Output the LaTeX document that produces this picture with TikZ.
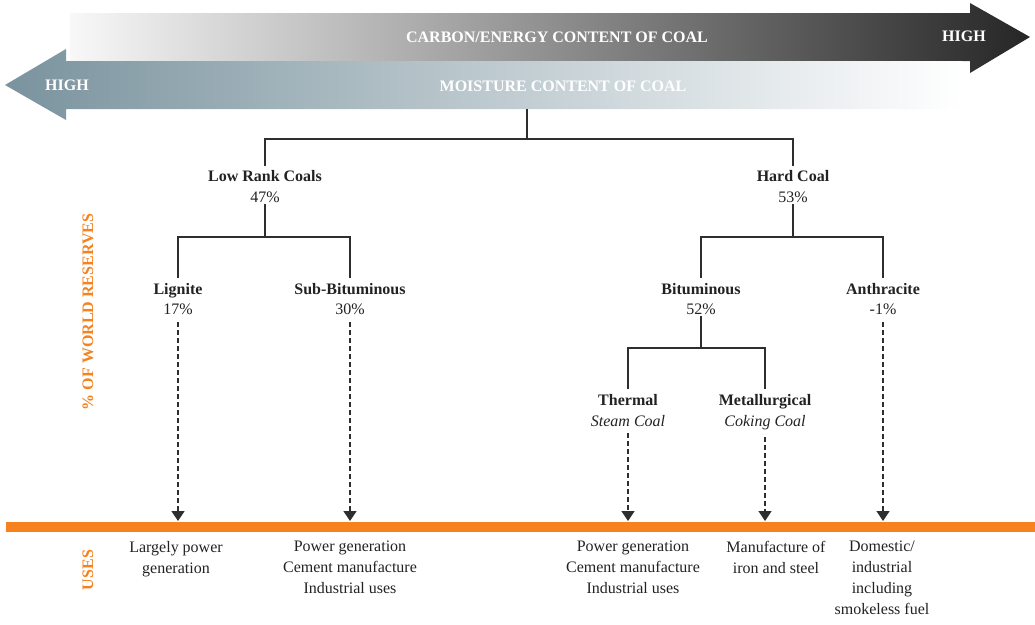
\documentclass[tikz,border=0pt]{standalone}
\usepackage{fontspec}
\setmainfont{Liberation Serif}
\usetikzlibrary{arrows.meta}
\definecolor{orng}{HTML}{F5821F}
\definecolor{lnc}{HTML}{2E2E2E}
\definecolor{txc}{HTML}{222222}
\definecolor{slate}{HTML}{7A939E}
\definecolor{slatemid}{HTML}{A4B4BC}
\definecolor{greyl}{HTML}{F8F8F8}
\definecolor{greym}{HTML}{9A9A9E}
\definecolor{greyd}{HTML}{262626}
\begin{document}
\begin{tikzpicture}[x=1pt,y=-1pt,
  every node/.style={text=txc},
  coalname/.style={inner sep=0pt, anchor=base, font=\fontsize{16}{21}\selectfont\bfseries},
  coalpct/.style={inner sep=0pt, anchor=base, font=\fontsize{16}{21}\selectfont},
  coalsub/.style={inner sep=0pt, anchor=base, font=\fontsize{16}{21}\selectfont\itshape},
  arrtext/.style={inner sep=0pt, anchor=base, text=white, font=\fontsize{16}{21}\selectfont\bfseries},
  sidelabel/.style={inner sep=0pt, rotate=90, text=orng, font=\fontsize{16}{21}\selectfont\bfseries},
  usetext/.style={inner sep=0pt, anchor=north, align=center, font=\fontsize{16}{21}\selectfont},
  tree/.style={draw=lnc, line width=1.4pt},
  dsh/.style={draw=lnc, line width=1.4pt, dash pattern=on 5pt off 3pt, -{Triangle[length=10pt,width=13pt]}}
]
\useasboundingbox (0,0) rectangle (1035,624);

% top arrow: carbon / energy content
\shade[left color=greyl, middle color=greym, right color=greyd]
  (70,13) -- (970,13) -- (970,3) -- (1030,37) -- (970,73) -- (970,61) -- (70,61) -- cycle;
% bottom arrow: moisture content
\shade[left color=slate, middle color=slatemid, right color=white]
  (962,61) -- (66,61) -- (66,49) -- (5,85) -- (66,120) -- (66,109) -- (962,109) -- cycle;

\node[arrtext] (carbon) at (557,42) {CARBON/ENERGY CONTENT OF COAL};
\node[arrtext] (highr) at (964,41) {HIGH};
\node[arrtext] (moist) at (563,91) {MOISTURE CONTENT OF COAL};
\node[arrtext] (highl) at (67,90) {HIGH};

% side labels
\node[sidelabel] (reserves) at (88,312) {\% OF WORLD RESERVES};
\node[sidelabel] (uses) at (88,570) {USES};

% orange band
\fill[orng] (6,522) rectangle (1035,532);
\coordinate (band) at (0,521);

% tree nodes
\coordinate (root) at (527,109);
\coordinate (j0) at (527,139);
\node[coalname] (low) at (265,181) {Low Rank Coals};
\node[coalpct] (lowp) at (265,202) {47\%};
\node[coalname] (hard) at (793,181) {Hard Coal};
\node[coalpct] (hardp) at (793,202) {53\%};

\coordinate (j1) at (265,237);
\coordinate (j2) at (793,237);
\node[coalname] (lig) at (178,294) {Lignite};
\node[coalpct] (ligp) at (178,314) {17\%};
\node[coalname] (sbit) at (350,294) {Sub-Bituminous};
\node[coalpct] (sbitp) at (350,314) {30\%};
\node[coalname] (bit) at (701,294) {Bituminous};
\node[coalpct] (bitp) at (701,314) {52\%};
\node[coalname] (anth) at (883,294) {Anthracite};
\node[coalpct] (anthp) at (883,314) {-1\%};

\coordinate (j3) at (701,348);
\node[coalname] (therm) at (628,405) {Thermal};
\node[coalsub] (thermp) at (628,426) {Steam Coal};
\node[coalname] (met) at (765,405) {Metallurgical};
\node[coalsub] (metp) at (765,426) {Coking Coal};

% tree connectors
\draw[tree] (root) -- (j0);
\draw[tree, shorten >=4pt] (j0) -| (low.north);
\draw[tree, shorten >=4pt] (j0) -| (hard.north);
\draw[tree, shorten <=2pt] (lowp.south) -- (j1);
\draw[tree, shorten <=2pt] (hardp.south) -- (j2);
\draw[tree, shorten >=5pt] (j1) -| (lig.north);
\draw[tree, shorten >=5pt] (j1) -| (sbit.north);
\draw[tree, shorten >=5pt] (j2) -| (bit.north);
\draw[tree, shorten >=5pt] (j2) -| (anth.north);
\draw[tree, shorten <=2pt] (bitp.south) -- (j3);
\draw[tree, shorten >=5pt] (j3) -| (therm.north);
\draw[tree, shorten >=5pt] (j3) -| (met.north);

% uses
\node[usetext] (u1) at (176,541) {Largely power\\generation};
\node[usetext] (u2) at (350,541) {Power generation\\Cement manufacture\\Industrial uses};
\node[usetext] (u3) at (633,541) {Power generation\\Cement manufacture\\Industrial uses};
\node[usetext] (u4) at (776,541) {Manufacture of\\iron and steel};
\node[usetext] (u5) at (882,541) {Domestic/\\industrial\\including\\smokeless fuel};

% dashed arrows to the band
\draw[dsh, shorten <=8pt] (ligp.south) -- (ligp.south |- band);
\draw[dsh, shorten <=8pt] (sbitp.south) -- (sbitp.south |- band);
\draw[dsh, shorten <=8pt] (anthp.south) -- (anthp.south |- band);
\draw[dsh, shorten <=7pt] (thermp.south) -- (thermp.south |- band);
\draw[dsh, shorten <=7pt] (metp.south) -- (metp.south |- band);
\end{tikzpicture}
\end{document}
